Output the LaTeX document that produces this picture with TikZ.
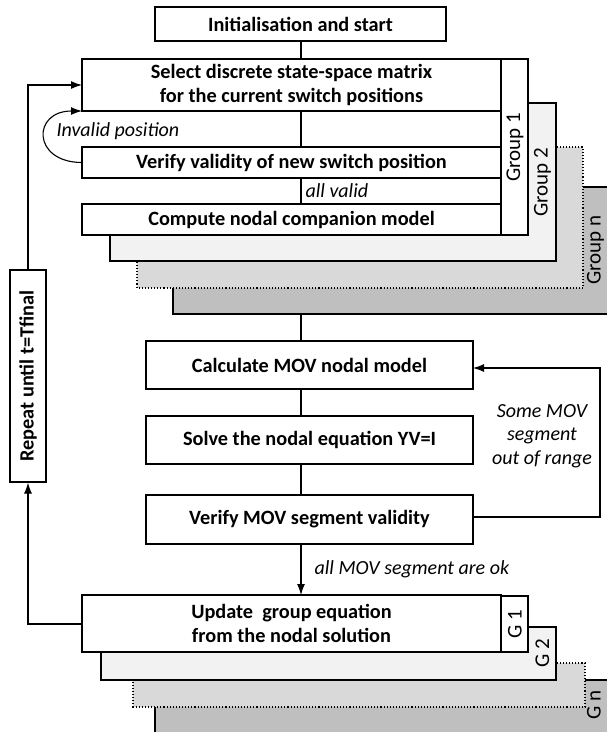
\documentclass[tikz,border=0pt]{standalone}
\usepackage{fontspec}
\setmainfont{Carlito}
\usetikzlibrary{arrows.meta}
\definecolor{gtwo}{HTML}{F2F2F2}
\definecolor{gthree}{HTML}{D9D9D9}
\definecolor{gfour}{HTML}{BFBFBF}
\begin{document}
\begin{tikzpicture}[x=1pt,y=-1pt,
  line width=1.1pt,
  >={Latex[length=11pt,width=8pt]},
  box/.style={draw,fill=white,inner sep=0pt,align=center,font=\fontsize{20.3}{23.5}\selectfont\bfseries},
  col/.style={draw,inner sep=0pt},
  lbl/.style={font=\fontsize{20}{23.5}\selectfont\itshape,inner sep=0pt},
  glbl/.style={font=\fontsize{21}{24}\selectfont,rotate=90,inner sep=0pt}
]
\useasboundingbox (0,0) rectangle (607,732);
\begin{scope}
\clip (0,0) rectangle (607,732);
% ---------- upper group stack ----------
\path[draw,fill=gfour] (173,187) rectangle (615,314);
\path[draw,dotted,fill=gthree] (137,147) rectangle (583,288);
\path[draw,fill=gtwo] (110,103) rectangle (556,261);
\path[fill=white] (82,59) rectangle (528,235);
\node[col,minimum width=27pt,minimum height=176pt] (g1col) at (514.5,147) {};
\node[glbl] (g1lbl) at (515,147) {Group 1};
\node[glbl] (g2lbl) at (542.5,182) {Group 2};
\node[glbl] (gnlbl) at (595.5,250) {Group n};

\node[box,minimum width=291pt,minimum height=34pt] (init) at (300.5,24) {Initialisation and start};
\node[box,minimum width=419pt,minimum height=52pt] (select) at (291.5,85) {Select discrete state-space matrix\\for the current switch positions};
\node[box,minimum width=419pt,minimum height=31pt] (verify) at (291.5,162.5) {Verify validity of new switch position};
\node[box,minimum width=419pt,minimum height=31pt] (compute) at (291.5,219.5) {Compute nodal companion model};

% ---------- middle ----------
\node[box,minimum width=327pt,minimum height=48pt] (calc) at (309.5,365) {Calculate MOV nodal model};
\node[box,minimum width=327pt,minimum height=48pt] (solve) at (309.5,440) {Solve the nodal equation YV=I};
\node[box,minimum width=327pt,minimum height=49pt] (vmov) at (309.5,519.5) {Verify MOV segment validity};

% ---------- lower group stack ----------
\path[draw,fill=gfour] (155,680) rectangle (615,745);
\path[draw,dotted,fill=gthree] (133,663) rectangle (585,707);
\path[draw,fill=gtwo] (101,627) rectangle (556,680);
\node[col,fill=white,minimum width=27pt,minimum height=56pt] (lg1col) at (514.5,624) {};
\node[box,minimum width=419pt,minimum height=57pt] (update) at (291.5,623.5) {Update\ \ group equation\\from the nodal solution};
\node[glbl] (lg1) at (515,624) {G 1};
\node[glbl] (lg2) at (542.5,653) {G 2};
\node[glbl] (lgn) at (594,705) {G n};

% ---------- repeat box ----------
\node[box,rotate=90,minimum width=212pt,minimum height=36pt] (rep) at (28,376) {Repeat until t=Tfinal};

% ---------- coordinates ----------
\coordinate (a1) at (301,41);
\coordinate (a2) at (301,59);
\coordinate (b1) at (301,111);
\coordinate (b2) at (301,147);
\coordinate (c1) at (301,178);
\coordinate (c2) at (301,204);
\coordinate (d1) at (301,314);
\coordinate (d2) at (301,341);
\coordinate (e1) at (301,389);
\coordinate (e2) at (301,416);
\coordinate (f1) at (301,464);
\coordinate (f2) at (301,495);
\coordinate (h1) at (301,544);
\coordinate (h2) at (301,595);
\coordinate (selbl) at (82,111);
\coordinate (selin) at (82,85);
\coordinate (fbR) at (600,517);
\coordinate (fbT) at (600,368);
\coordinate (calcin) at (473,368);
\coordinate (upout) at (82,624);

% ---------- connectors ----------
\draw (a1) -- (a2);
\draw (b1) -- (b2);
\draw (c1) -- (c2);
\draw (d1) -- (d2);
\draw (e1) -- (e2);
\draw (f1) -- (f2);
\draw[->] (h1) -- (h2);
\draw[->] (verify.west) .. controls (32,162) and (32,111) .. (selbl);
\draw[->] (vmov.east |- fbR) -- (fbR) -- (fbT) -- (calcin);
\draw[->] (upout) -| (rep.west);
\draw[->] (rep.east) |- (selin);

% ---------- labels ----------
\node[lbl,anchor=west] (inv) at (56,131) {Invalid position};
\node[lbl,anchor=west] (allv) at (305,191) {all valid};
\node[lbl,anchor=west] (allok) at (314,569) {all MOV segment are ok};
\node[lbl,align=center] (some) at (542,436) {Some MOV\\segment\\out of range};
\end{scope}
\end{tikzpicture}
\end{document}
